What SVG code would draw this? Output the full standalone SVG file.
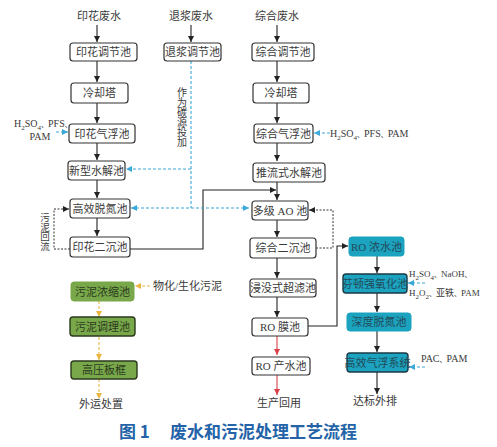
<svg xmlns="http://www.w3.org/2000/svg" width="497" height="447" viewBox="0 0 497 447">
<style>
text{font-family:"Liberation Serif","Noto Sans CJK SC",serif;font-size:11px;fill:#3a3a3a;text-anchor:middle}
.b{fill:#fff;stroke:#333;stroke-width:1.2}
.t1{fill:#1ba3c0;stroke:#1ba3c0;stroke-width:1}
.t2{fill:#1ba3c0;stroke:#1c3a45;stroke-width:1.4}
.g1{fill:#78a84a;stroke:#78a84a;stroke-width:1}
.g2{fill:#78a84a;stroke:#2a3a1c;stroke-width:1.4}
.tt{fill:#234a58}
.gt{fill:#2c3a1f}
.k{stroke:#222;stroke-width:1.1;fill:none}
.kd{stroke:#333;stroke-width:1;fill:none;stroke-dasharray:2 1.5}
.bl{stroke:#3aa8d8;stroke-width:1.1;fill:none;stroke-dasharray:3 2}
.r{stroke:#d9404a;stroke-width:1.1;fill:none}
.o{stroke:#e8b640;stroke-width:1.1;fill:none;stroke-dasharray:3 2}
.l{text-anchor:start}
.c{font-size:10px}
.c9{font-size:9px}
.s{font-size:7px}
.dn{font-size:7px}
.v{font-size:10px}
.v2{font-size:9.5px}
.ti{font-family:"Noto Sans CJK SC","Liberation Sans",sans-serif;font-weight:bold;font-size:17px;fill:#2463a8;text-anchor:start}
</style>
<defs>
<marker id="ak" markerUnits="userSpaceOnUse" markerWidth="7" markerHeight="6" refX="6" refY="3" orient="auto-start-reverse"><path d="M0,0 L6,3 L0,6 Z" fill="#222"/></marker>
<marker id="ab" markerUnits="userSpaceOnUse" markerWidth="7" markerHeight="6" refX="6" refY="3" orient="auto-start-reverse"><path d="M0,0 L6,3 L0,6 Z" fill="#3aa8d8"/></marker>
<marker id="ar" markerUnits="userSpaceOnUse" markerWidth="7" markerHeight="6" refX="6" refY="3" orient="auto-start-reverse"><path d="M0,0 L6,3 L0,6 Z" fill="#d9404a"/></marker>
<marker id="ao" markerUnits="userSpaceOnUse" markerWidth="7" markerHeight="6" refX="6" refY="3" orient="auto-start-reverse"><path d="M0,0 L6,3 L0,6 Z" fill="#e8b640"/></marker>
</defs>

<g id="connectors">
<path class="k" marker-end="url(#ak)" d="M97,25 V42"/>
<path class="k" marker-end="url(#ak)" d="M97,61 V82"/>
<path class="k" marker-end="url(#ak)" d="M97,103 V123"/>
<path class="k" marker-end="url(#ak)" d="M97,143 V160"/>
<path class="k" marker-end="url(#ak)" d="M97,180 V198"/>
<path class="k" marker-end="url(#ak)" d="M97,218 V236"/>
<path class="k" marker-end="url(#ak)" d="M191,25 V42"/>
<path class="k" marker-end="url(#ak)" d="M277,25 V42"/>
<path class="k" marker-end="url(#ak)" d="M277,61 V82"/>
<path class="k" marker-end="url(#ak)" d="M277,103 V123"/>
<path class="k" marker-end="url(#ak)" d="M277,143 V161"/>
<path class="k" marker-end="url(#ak)" d="M277,182 V200"/>
<path class="k" marker-end="url(#ak)" d="M277,220 V237"/>
<path class="k" marker-end="url(#ak)" d="M277,258 V278"/>
<path class="k" marker-end="url(#ak)" d="M277,297 V317"/>
<path class="k" marker-end="url(#ak)" d="M130,249 H203 V190 H276"/>
<path class="k" marker-end="url(#ak)" d="M308,326 H337 V246 H348"/>
<path class="k" marker-end="url(#ak)" d="M377,256 V273"/>
<path class="k" marker-end="url(#ak)" d="M377,293 V312"/>
<path class="k" marker-end="url(#ak)" d="M377,331 V352"/>
<path class="k" marker-end="url(#ak)" d="M377,372 V394"/>
<path class="r" marker-end="url(#ar)" d="M277,336 V355"/>
<path class="r" marker-end="url(#ar)" d="M277,375 V395"/>
<path class="kd" marker-end="url(#ak)" d="M70,249 H54 V209 H69"/>
<path class="kd" marker-end="url(#ak)" d="M316,248 H333 V210 H309"/>
<path class="bl" d="M191,61 V208"/>
<path class="bl" marker-end="url(#ab)" d="M191,169 H126"/>
<path class="bl" marker-start="url(#ab)" marker-end="url(#ab)" d="M131,208 H249"/>
<path class="bl" marker-end="url(#ab)" d="M56,132 H68"/>
<path class="bl" marker-end="url(#ab)" d="M330,133 H314"/>
<path class="bl" marker-end="url(#ab)" d="M425,283 H408"/>
<path class="bl" marker-end="url(#ab)" d="M425,367 H409"/>
<path class="o" marker-end="url(#ao)" d="M150,286 H135"/>
<path class="o" marker-end="url(#ao)" d="M99,301 V317"/>
<path class="o" marker-end="url(#ao)" d="M99,337 V360"/>
<path class="o" marker-end="url(#ao)" d="M99,379 V399"/>
</g>

<g id="src1"><text x="99" y="20">印花废水</text></g>
<g id="src2"><text x="191" y="20">退浆废水</text></g>
<g id="src3"><text x="277" y="20">综合废水</text></g>

<g id="n_yhtjc"><rect class="b" x="70" y="43" width="67" height="18" rx="3"/><text x="103.5" y="56">印花调节池</text></g>
<g id="n_lqt1"><rect class="b" x="71" y="83" width="57" height="20" rx="3"/><text x="99.5" y="97">冷却塔</text></g>
<g id="n_yhqfc"><rect class="b" x="69" y="124" width="66" height="19" rx="3"/><text x="102" y="137.5">印花气浮池</text></g>
<g id="n_xxsjc"><rect class="b" x="68" y="161" width="57" height="19" rx="3"/><text x="96.5" y="174.5">新型水解池</text></g>
<g id="n_gxtdc"><rect class="b" x="70" y="199" width="60" height="19" rx="3"/><text x="100" y="212.5">高效脱氮池</text></g>
<g id="n_yhecc"><rect class="b" x="70" y="237" width="60" height="20" rx="3"/><text x="100" y="251">印花二沉池</text></g>

<g id="n_tjtjc"><rect class="b" x="164" y="43" width="57" height="18" rx="3"/><text x="192.5" y="56">退浆调节池</text></g>
<g id="lbl_tjly">
<text class="v" x="182" y="96">作</text>
<text class="v" x="182" y="106">为</text>
<text class="v" x="182" y="116">碳</text>
<text class="v" x="182" y="126">源</text>
<text class="v" x="182" y="136">投</text>
<text class="v" x="182" y="146">加</text>
</g>
<g id="lbl_wnhl">
<text class="v2" x="45" y="221">污</text>
<text class="v2" x="45" y="230.5">泥</text>
<text class="v2" x="45" y="240">回</text>
<text class="v2" x="45" y="249.5">流</text>
</g>

<g id="n_zhtjc"><rect class="b" x="252" y="43" width="62" height="18" rx="3"/><text x="283" y="56">综合调节池</text></g>
<g id="n_lqt2"><rect class="b" x="253" y="83" width="56" height="20" rx="3"/><text x="281" y="97">冷却塔</text></g>
<g id="n_zhqfc"><rect class="b" x="254" y="124" width="59" height="19" rx="3"/><text x="283.5" y="137.5">综合气浮池</text></g>
<g id="n_tlsjc"><rect class="b" x="253" y="163" width="72" height="19" rx="3"/><text x="289" y="176.5">推流式水解池</text></g>
<g id="n_djao"><rect class="b" x="252" y="201" width="56" height="19" rx="3"/><text x="280" y="214.5">多级 AO 池</text></g>
<g id="n_zhecc"><rect class="b" x="250" y="238" width="66" height="20" rx="3"/><text x="283" y="252">综合二沉池</text></g>
<g id="n_jmcl"><rect class="b" x="250" y="279" width="66" height="18" rx="3"/><text x="283" y="292">浸没式超滤池</text></g>
<g id="n_romc"><rect class="b" x="252" y="318" width="56" height="18" rx="3"/><text x="280" y="331">RO 膜池</text></g>
<g id="n_rocs"><rect class="b" x="252" y="357" width="58" height="18" rx="3"/><text x="281" y="370">RO 产水池</text></g>
<g id="out_scyy"><text x="279" y="407">生产回用</text></g>

<g id="n_ronsc"><rect class="t1" x="349" y="237" width="55" height="19" rx="3"/><text class="tt" x="376.5" y="250.5">RO 浓水池</text></g>
<g id="n_fdqyh"><rect class="t2" x="343" y="274" width="64" height="19" rx="3"/><text class="tt" x="375" y="287.5">芬顿强氧化池</text></g>
<g id="n_sdtdc"><rect class="t1" x="347" y="313" width="64" height="18" rx="3"/><text class="tt" x="379" y="326">深度脱氮池</text></g>
<g id="n_gxqf"><rect class="t2" x="347" y="353" width="61" height="19" rx="3"/><text class="tt" x="377.5" y="366.5">高效气浮系统</text></g>
<g id="out_dbwp"><text x="375" y="405">达标外排</text></g>

<g id="lbl_chem1"><text class="l c" x="14" y="127">H<tspan class="s" dy="2.5">2</tspan><tspan dy="-2.5">SO</tspan><tspan class="s" dy="2.5">4</tspan><tspan class="dn" dy="-2.5">、</tspan><tspan>PFS</tspan><tspan class="dn">、</tspan></text><text class="c" x="40" y="140">PAM</text></g>
<g id="lbl_chem2"><text class="l c" x="330" y="137">H<tspan class="s" dy="2.5">2</tspan><tspan dy="-2.5">SO</tspan><tspan class="s" dy="2.5">4</tspan><tspan class="dn" dy="-2.5">、</tspan><tspan>PFS</tspan><tspan class="dn">、</tspan><tspan>PAM</tspan></text></g>
<g id="lbl_chem3"><text class="l c9" x="409" y="277">H<tspan class="s" dy="2.5">2</tspan><tspan dy="-2.5">SO</tspan><tspan class="s" dy="2.5">4</tspan><tspan class="dn" dy="-2.5">、</tspan><tspan>NaOH</tspan><tspan class="dn">、</tspan></text><text class="l c9" x="409" y="296">H<tspan class="s" dy="2.5">2</tspan><tspan dy="-2.5">O</tspan><tspan class="s" dy="2.5">2</tspan><tspan class="dn" dy="-2.5">、</tspan><tspan>亚铁</tspan><tspan class="dn">、</tspan><tspan>PAM</tspan></text></g>
<g id="lbl_chem4"><text class="l c" x="421" y="362">PAC<tspan class="dn">、</tspan><tspan>PAM</tspan></text></g>

<g id="n_wnnsc"><rect class="g1" x="71" y="282" width="63" height="19" rx="3"/><text class="gt" x="102.5" y="295.5">污泥浓缩池</text></g>
<g id="lbl_whsw"><text class="l" x="153" y="290">物化/生化污泥</text></g>
<g id="n_wntlc"><rect class="g2" x="70" y="317" width="65" height="19" rx="3"/><text class="gt" x="102.5" y="330.5">污泥调理池</text></g>
<g id="n_gybk"><rect class="g2" x="71" y="361" width="66" height="18" rx="3"/><text class="gt" x="104" y="374">高压板框</text></g>
<g id="out_wycz"><text x="101" y="408">外运处置</text></g>

<g id="title"><text class="ti" x="119" y="438">图 1</text><text class="ti" x="170" y="438">废水和污泥处理工艺流程</text></g>
</svg>
